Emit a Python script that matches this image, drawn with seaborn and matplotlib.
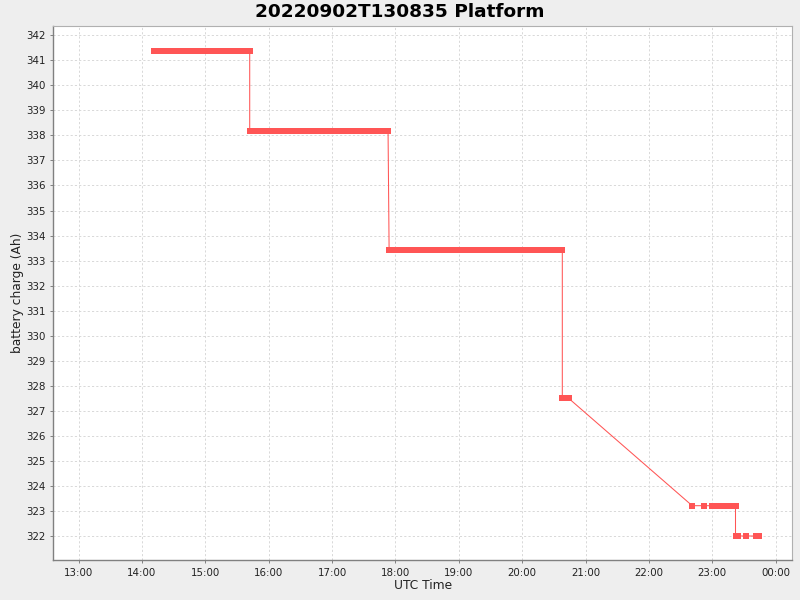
import matplotlib
matplotlib.use("Agg")
import matplotlib.pyplot as plt
import matplotlib.dates as mdates
import pandas as pd
import seaborn as sns

DATE = "2022-09-02"
TITLE = "20220902T130835 Platform"
X_LABEL = "UTC Time"
Y_LABEL = "battery charge (Ah)"

seg1_times = ["14:11", "14:15", "14:19", "14:23", "14:27", "14:31", "14:35", "14:39",
              "14:43", "14:47", "14:51", "14:55", "14:59", "15:03", "15:07", "15:11",
              "15:15", "15:19", "15:23", "15:27", "15:31", "15:35", "15:39", "15:42"]
seg1_value = 341.36

seg2_times = ["15:42", "15:46", "15:50", "15:54", "15:58", "16:02", "16:06", "16:10",
              "16:14", "16:18", "16:22", "16:26", "16:30", "16:34", "16:38", "16:42",
              "16:46", "16:50", "16:54", "16:58", "17:02", "17:06", "17:10", "17:14",
              "17:18", "17:22", "17:26", "17:30", "17:34", "17:38", "17:42", "17:46",
              "17:50", "17:53"]
seg2_value = 338.16

seg3_times = ["17:54", "17:58", "18:02", "18:06", "18:10", "18:14", "18:18", "18:22",
              "18:26", "18:30", "18:34", "18:38", "18:42", "18:46", "18:50", "18:54",
              "18:58", "19:02", "19:06", "19:10", "19:14", "19:18", "19:22", "19:26",
              "19:30", "19:34", "19:38", "19:42", "19:46", "19:50", "19:54", "19:58",
              "20:02", "20:06", "20:10", "20:14", "20:18", "20:22", "20:26", "20:30",
              "20:34", "20:38"]
seg3_value = 333.41

seg4_times = ["20:38", "20:41", "20:44"]
seg4_value = 327.50

seg5_times = ["22:41", "22:52", "23:00", "23:04", "23:08", "23:12", "23:16", "23:19", "23:22"]
seg5_value = 323.21

seg6_times = ["23:22", "23:24", "23:32", "23:41", "23:44"]
seg6_value = 322.00

segments = [(seg1_times, seg1_value), (seg2_times, seg2_value), (seg3_times, seg3_value),
            (seg4_times, seg4_value), (seg5_times, seg5_value), (seg6_times, seg6_value)]

rows = []
for times, val in segments:
    for t in times:
        rows.append({"time": pd.Timestamp(f"{DATE} {t}"), "charge": val})
df = pd.DataFrame(rows)

Y_TICKS = list(range(322, 343))
X_START = pd.Timestamp(f"{DATE} 12:36")
X_END = pd.Timestamp(f"{DATE} 00:00") + pd.Timedelta(days=1, minutes=15.5)

sns.set_theme(style="white")
plt.rcParams['font.family'] = ['DejaVu Sans']

fig = plt.figure(figsize=(8, 6), dpi=100, facecolor="#eeeeee")
ax = fig.add_axes([0.0666, 0.0662, 0.9234, 0.8905])
ax.set_facecolor("white")

sns.lineplot(data=df, x="time", y="charge", ax=ax, sort=False, estimator=None,
             color="#ff5555", linewidth=0.75, marker="s", markersize=4.85,
             markeredgewidth=0, markerfacecolor="#ff5555", zorder=3)

ax.set_xlim(X_START, X_END)
ax.set_ylim(321.03, 342.37)
ax.set_yticks(Y_TICKS)
ax.xaxis.set_major_locator(mdates.HourLocator())
ax.xaxis.set_major_formatter(mdates.DateFormatter("%H:%M"))

ax.grid(True, color="#d8d8d8", linestyle=(0, (2.2, 2.2)), linewidth=0.7)
ax.set_axisbelow(True)

for side in ["top", "right"]:
    ax.spines[side].set_color("#b0b0b0")
    ax.spines[side].set_linewidth(0.8)
for side in ["left", "bottom"]:
    ax.spines[side].set_color("#808080")
    ax.spines[side].set_linewidth(1.0)

ax.tick_params(axis="both", which="major", direction="out", length=2.5, width=0.7,
               color="#808080", labelsize=7.4, labelcolor="#222222", pad=3,
               bottom=True, left=True)

ax.set_xlabel(X_LABEL, fontsize=8.8, color="#222222")
ax.set_ylabel(Y_LABEL, fontsize=8.8, color="#222222")
ax.xaxis.set_label_coords(0.5, -0.0465)
ax.yaxis.set_label_coords(-0.0478, 0.5)
ax.xaxis.label.set_va("center")
ax.yaxis.label.set_va("center")
fig.suptitle(TITLE, fontsize=13.3, fontweight="bold", color="black", y=0.98, va="center")

fig.savefig("out.png", dpi=100, facecolor=fig.get_facecolor())
